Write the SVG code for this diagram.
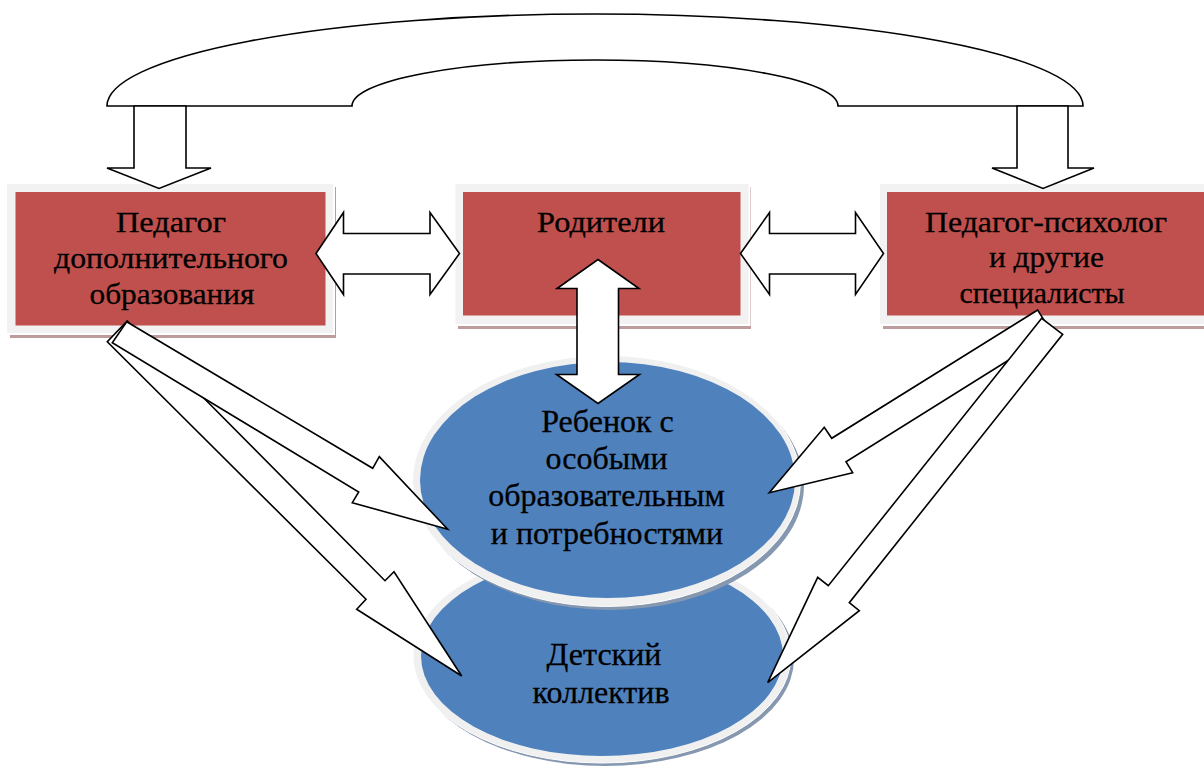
<svg xmlns="http://www.w3.org/2000/svg" width="1204" height="772" viewBox="0 0 1204 772">
<style>
.shadow{fill:#bc9c9c}
.gap{fill:#ffffff}
.frame{fill:#f2f2f2}
.red{fill:#c0504d}
.eshadow{fill:#8697b0}
.erim{fill:#f0f0f0;stroke:#ffffff;stroke-width:1}
.blue{fill:#4f81bd}
.t{font-family:'Liberation Serif','Times New Roman',serif;fill:#000;stroke:#000;stroke-width:0.3;text-anchor:middle}
.tb{font-size:29px}
.te{font-size:32px}
.arr{fill:#ffffff;stroke:#000;stroke-width:1.6;stroke-linejoin:miter}
</style>
<rect width="1204" height="772" fill="#ffffff"/>
<g id="node-pedagog-dop">
<rect class="shadow" x="10" y="187" width="326" height="151"/>
<rect class="gap" x="7" y="184" width="328" height="151"/>
<rect class="frame" x="7" y="184" width="326" height="149"/>
<rect class="red" x="15.5" y="192" width="310" height="133.5"/>
<text class="t tb" x="171" y="232" textLength="110" lengthAdjust="spacingAndGlyphs">Педагог</text>
<text class="t tb" x="171" y="268" textLength="234" lengthAdjust="spacingAndGlyphs">дополнительного</text>
<text class="t tb" x="172" y="304" textLength="165" lengthAdjust="spacingAndGlyphs">образования</text>
</g>
<g id="node-roditeli">
<rect class="shadow" x="458" y="187" width="293" height="142"/>
<rect class="gap" x="455.5" y="184" width="295" height="142"/>
<rect class="frame" x="455.5" y="184" width="293" height="140"/>
<rect class="red" x="463" y="192" width="277.5" height="123.5"/>
<text class="t tb" x="601" y="232" textLength="128" lengthAdjust="spacingAndGlyphs">Родители</text>
</g>
<g id="node-psiholog">
<rect class="shadow" x="883" y="187" width="330" height="142"/>
<rect class="gap" x="880" y="184" width="330" height="142"/>
<rect class="frame" x="880" y="184" width="330" height="140"/>
<rect class="red" x="887" y="192" width="320" height="123.5"/>
<text class="t tb" x="1046" y="232" textLength="242" lengthAdjust="spacingAndGlyphs">Педагог-психолог</text>
<text class="t tb" x="1046.5" y="267" textLength="115" lengthAdjust="spacingAndGlyphs">и другие</text>
<text class="t tb" x="1042" y="303" textLength="165" lengthAdjust="spacingAndGlyphs">специалисты</text>
</g>
<g id="node-kollektiv">
<ellipse class="eshadow" cx="605" cy="659" rx="189" ry="107"/>
<ellipse class="erim" cx="602" cy="656" rx="189" ry="107"/>
<ellipse class="blue" cx="602" cy="656" rx="181" ry="100"/>
<text class="t te" x="604" y="665">Детский</text>
<text class="t te" x="601" y="703">коллектив</text>
</g>
<g id="node-rebenok">
<ellipse class="eshadow" cx="610" cy="485" rx="194" ry="125"/>
<ellipse class="erim" cx="606.5" cy="481" rx="194" ry="125.5"/>
<ellipse class="blue" cx="607.5" cy="480" rx="187.5" ry="118"/>
<text class="t te" x="607.5" y="432">Ребенок с</text>
<text class="t te" x="606.5" y="468.5">особыми</text>
<text class="t te" x="606.5" y="506">образовательным</text>
<text class="t te" x="607" y="543.5">и потребностями</text>
</g>
<g id="connectors">
<path class="arr" d="M107,106 A488,92 0 0 1 1083,106 L838,106 A243,46 0 0 0 352,106 Z"/>
<path class="arr" d="M134,106 L186,106 L186,168 L211,168 L159,188.5 L107,168 L134,168 Z"/>
<path class="arr" d="M1017,106 L1068,106 L1068,168 L1094,168 L1043,188.5 L992,168 L1017,168 Z"/>
<path class="arr" d="M316,253.5 L343.5,212.5 L343.5,233.5 L430,233.5 L430,212.5 L459.5,253.5 L430,294.5 L430,274 L343.5,274 L343.5,294.5 Z"/>
<path class="arr" d="M740.5,253.5 L769.5,212.5 L769.5,233.5 L855.5,233.5 L855.5,212.5 L883.5,253.5 L855.5,294.5 L855.5,274 L769.5,274 L769.5,294.5 Z"/>
<path class="arr" d="M598,259.5 L639,288.5 L618.5,288.5 L618.5,374.5 L639.5,374.5 L598,403.5 L556.5,374.5 L577,374.5 L577,288.5 L557,288.5 Z"/>
<path class="arr" d="M127.3,321 L385,580.7 L394,571.7 L461.7,676 L356.7,609.3 L366,599.3 L107.3,341.7 Z"/>
<path class="arr" d="M126.7,321.7 L372.7,468.3 L379.3,456.7 L447.7,529.3 L352.3,502.7 L358.7,492 L112.3,342.7 Z"/>
<path class="arr" d="M1037.7,310 L831.7,438.3 L824.3,427.3 L769.3,492.7 L852.7,472.7 L846,461.7 L1052,333 Z"/>
<path class="arr" d="M1041.7,318.3 L828.3,585.7 L817.7,577.3 L767.7,682.7 L859.3,610.7 L849.3,602.7 L1062.7,334.3 Z"/>
</g>
</svg>
